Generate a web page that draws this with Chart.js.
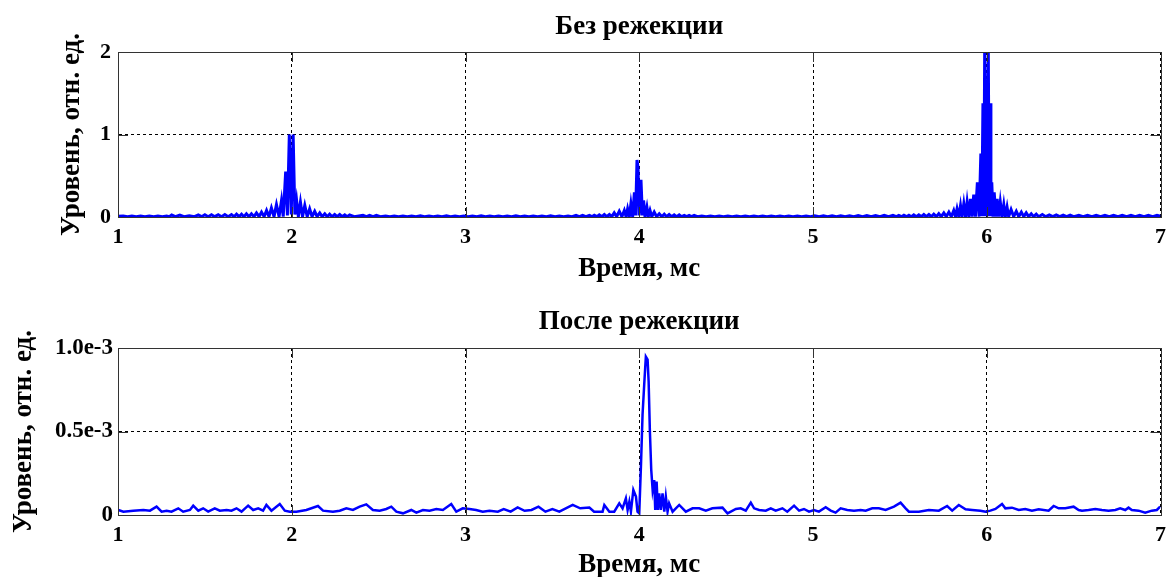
<!DOCTYPE html>
<html>
<head>
<meta charset="utf-8">
<script src="https://cdn.jsdelivr.net/npm/chart.js@4.4.0/dist/chart.umd.min.js"></script>
<style>
  html, body { margin: 0; padding: 0; background: #fff; overflow: hidden; width: 1166px; height: 577px; }
  canvas { position: absolute; left: 0; }
  #topChart { top: 0; }
  #bottomChart { top: 290px; }
</style>
</head>
<body>
<canvas id="topChart" width="1173" height="290"></canvas>
<canvas id="bottomChart" width="1173" height="293"></canvas>
<script>
// axis ticks
const xTicks = [1, 2, 3, 4, 5, 6, 7];
const topYTicks = [0, 1, 2];
const topYLabels = ['0', '1', '2'];
const bottomYTicks = [0, 0.5e-3, 1.0e-3];
const bottomYLabels = ['0', '0.5e-3', '1.0e-3'];

// "Без режекции" trace, time in ms
const topTime = [
  1.000, 1.030, 1.055, 1.080, 1.105, 1.130, 1.155, 1.180, 1.205, 1.230,
  1.255, 1.280, 1.295, 1.309, 1.330, 1.356, 1.380, 1.410, 1.440, 1.462,
  1.481, 1.500, 1.519, 1.538, 1.557, 1.577, 1.596, 1.615, 1.634, 1.653,
  1.668, 1.682, 1.697, 1.711, 1.725, 1.739, 1.754, 1.768, 1.783, 1.797,
  1.812, 1.826, 1.841, 1.855, 1.869, 1.883, 1.898, 1.912, 1.927, 1.941,
  1.951, 1.965, 1.975, 1.986, 1.997, 2.008, 2.018, 2.028, 2.038, 2.050,
  2.062, 2.075, 2.089, 2.103, 2.117, 2.132, 2.146, 2.161, 2.175, 2.190,
  2.204, 2.218, 2.232, 2.247, 2.261, 2.276, 2.290, 2.305, 2.319, 2.333,
  2.360, 2.410, 2.430, 2.448, 2.468, 2.487, 2.510, 2.540, 2.565, 2.590,
  2.615, 2.640, 2.665, 2.690, 2.715, 2.740, 2.765, 2.790, 2.815, 2.840,
  2.865, 2.890, 2.915, 2.940, 2.965, 2.990, 3.015, 3.040, 3.065, 3.090,
  3.115, 3.140, 3.165, 3.190, 3.215, 3.240, 3.265, 3.290, 3.315, 3.340,
  3.365, 3.390, 3.415, 3.440, 3.465, 3.490, 3.515, 3.540, 3.565, 3.590,
  3.613, 3.636, 3.655, 3.674, 3.693, 3.713, 3.727, 3.741, 3.756, 3.770,
  3.785, 3.799, 3.813, 3.828, 3.842, 3.856, 3.870, 3.885, 3.900, 3.914,
  3.924, 3.933, 3.943, 3.952, 3.962, 3.972, 3.979, 3.987, 3.993, 3.999,
  4.010, 4.018, 4.025, 4.033, 4.044, 4.052, 4.062, 4.072, 4.086, 4.100,
  4.115, 4.130, 4.144, 4.158, 4.172, 4.186, 4.201, 4.215, 4.230, 4.244,
  4.259, 4.273, 4.287, 4.301, 4.316, 4.335, 4.360, 4.385, 4.410, 4.435,
  4.460, 4.485, 4.510, 4.535, 4.560, 4.585, 4.610, 4.635, 4.660, 4.685,
  4.710, 4.735, 4.760, 4.785, 4.810, 4.835, 4.860, 4.885, 4.910, 4.935,
  4.960, 4.985, 5.010, 5.035, 5.060, 5.085, 5.110, 5.135, 5.160, 5.185,
  5.210, 5.235, 5.260, 5.285, 5.310, 5.335, 5.360, 5.385, 5.410, 5.435,
  5.460, 5.480, 5.494, 5.509, 5.523, 5.538, 5.552, 5.566, 5.580, 5.595,
  5.609, 5.624, 5.638, 5.652, 5.667, 5.681, 5.695, 5.710, 5.724, 5.738,
  5.753, 5.767, 5.782, 5.796, 5.810, 5.820, 5.829, 5.839, 5.849, 5.858,
  5.868, 5.878, 5.887, 5.897, 5.906, 5.916, 5.925, 5.935, 5.946, 5.956,
  5.966, 5.972, 5.978, 5.983, 5.988, 5.998, 6.009, 6.014, 6.019, 6.024,
  6.029, 6.036, 6.043, 6.052, 6.060, 6.069, 6.078, 6.088, 6.098, 6.107,
  6.117, 6.126, 6.140, 6.155, 6.170, 6.184, 6.199, 6.213, 6.227, 6.241,
  6.256, 6.270, 6.285, 6.299, 6.320, 6.340, 6.360, 6.380, 6.400, 6.420,
  6.440, 6.460, 6.480, 6.500, 6.530, 6.555, 6.580, 6.605, 6.630, 6.655,
  6.680, 6.705, 6.730, 6.755, 6.780, 6.805, 6.830, 6.855, 6.880, 6.905,
  6.930, 6.955, 6.980, 7.000
];
const topLevel = [
  0.010, 0.012, 0.004, 0.012, 0.004, 0.012, 0.004, 0.012, 0.004, 0.012,
  0.004, 0.012, 0.004, 0.025, 0.004, 0.022, 0.004, 0.015, 0.004, 0.025,
  0.004, 0.028, 0.004, 0.028, 0.004, 0.028, 0.004, 0.030, 0.004, 0.030,
  0.004, 0.035, 0.004, 0.035, 0.004, 0.040, 0.004, 0.040, 0.004, 0.050,
  0.004, 0.060, 0.004, 0.080, 0.004, 0.110, 0.004, 0.150, 0.004, 0.200,
  0.004, 0.550, 0.020, 1.000, 0.030, 1.000, 0.030, 0.200, 0.004, 0.180,
  0.004, 0.140, 0.004, 0.100, 0.004, 0.070, 0.004, 0.050, 0.004, 0.040,
  0.004, 0.035, 0.004, 0.030, 0.004, 0.030, 0.004, 0.025, 0.004, 0.025,
  0.004, 0.020, 0.004, 0.020, 0.004, 0.020, 0.004, 0.012, 0.004, 0.012,
  0.004, 0.012, 0.004, 0.012, 0.004, 0.014, 0.004, 0.012, 0.004, 0.012,
  0.004, 0.014, 0.004, 0.012, 0.004, 0.012, 0.004, 0.012, 0.004, 0.014,
  0.004, 0.012, 0.004, 0.012, 0.004, 0.012, 0.004, 0.014, 0.004, 0.012,
  0.004, 0.012, 0.004, 0.012, 0.004, 0.014, 0.004, 0.012, 0.004, 0.012,
  0.004, 0.020, 0.004, 0.020, 0.004, 0.020, 0.004, 0.022, 0.004, 0.025,
  0.004, 0.030, 0.004, 0.030, 0.004, 0.050, 0.004, 0.070, 0.004, 0.080,
  0.004, 0.100, 0.004, 0.160, 0.004, 0.300, 0.020, 0.690, 0.600, 0.020,
  0.450, 0.020, 0.200, 0.004, 0.120, 0.004, 0.080, 0.004, 0.060, 0.004,
  0.040, 0.004, 0.035, 0.004, 0.030, 0.004, 0.025, 0.004, 0.025, 0.004,
  0.020, 0.004, 0.020, 0.004, 0.020, 0.004, 0.012, 0.004, 0.012, 0.004,
  0.012, 0.004, 0.012, 0.004, 0.012, 0.004, 0.012, 0.004, 0.012, 0.004,
  0.012, 0.004, 0.012, 0.004, 0.012, 0.004, 0.012, 0.004, 0.012, 0.004,
  0.012, 0.004, 0.014, 0.004, 0.014, 0.004, 0.015, 0.004, 0.015, 0.004,
  0.016, 0.004, 0.017, 0.004, 0.018, 0.004, 0.018, 0.004, 0.019, 0.004,
  0.020, 0.004, 0.020, 0.004, 0.022, 0.004, 0.022, 0.004, 0.025, 0.004,
  0.025, 0.004, 0.030, 0.004, 0.030, 0.004, 0.035, 0.004, 0.040, 0.004,
  0.050, 0.004, 0.060, 0.004, 0.080, 0.004, 0.100, 0.004, 0.140, 0.004,
  0.160, 0.004, 0.180, 0.004, 0.220, 0.004, 0.270, 0.004, 0.420, 0.004,
  0.770, 0.010, 1.380, 0.010, 2.000, 0.010, 2.000, 0.010, 1.380, 0.010,
  0.420, 0.004, 0.300, 0.004, 0.220, 0.004, 0.180, 0.004, 0.150, 0.004,
  0.120, 0.004, 0.090, 0.004, 0.070, 0.004, 0.060, 0.004, 0.050, 0.004,
  0.040, 0.004, 0.035, 0.004, 0.030, 0.004, 0.025, 0.004, 0.025, 0.004,
  0.022, 0.004, 0.022, 0.004, 0.020, 0.004, 0.020, 0.004, 0.020, 0.004,
  0.020, 0.004, 0.020, 0.004, 0.020, 0.004, 0.020, 0.004, 0.020, 0.004,
  0.020, 0.004, 0.020, 0.010
];

// "После режекции" trace
const bottomTime = [
  1.002, 1.031, 1.088, 1.146, 1.184, 1.222, 1.251, 1.280, 1.308, 1.347,
  1.375, 1.414, 1.433, 1.462, 1.490, 1.519, 1.557, 1.586, 1.625, 1.653,
  1.682, 1.711, 1.749, 1.778, 1.807, 1.835, 1.854, 1.883, 1.931, 1.960,
  1.989, 2.027, 2.084, 2.151, 2.180, 2.237, 2.276, 2.314, 2.352, 2.391,
  2.429, 2.467, 2.506, 2.544, 2.573, 2.602, 2.640, 2.688, 2.717, 2.755,
  2.793, 2.832, 2.870, 2.918, 2.947, 2.984, 3.023, 3.061, 3.099, 3.138,
  3.186, 3.220, 3.260, 3.300, 3.340, 3.380, 3.420, 3.460, 3.500, 3.540,
  3.617, 3.660, 3.713, 3.740, 3.789, 3.799, 3.828, 3.856, 3.885, 3.904,
  3.923, 3.933, 3.943, 3.952, 3.966, 3.981, 3.990, 4.000, 4.010, 4.019,
  4.029, 4.038, 4.048, 4.054, 4.061, 4.069, 4.077, 4.086, 4.092, 4.100,
  4.107, 4.115, 4.124, 4.134, 4.144, 4.153, 4.163, 4.172, 4.192, 4.230,
  4.268, 4.307, 4.345, 4.383, 4.421, 4.479, 4.508, 4.556, 4.584, 4.613,
  4.642, 4.661, 4.690, 4.728, 4.757, 4.785, 4.824, 4.852, 4.891, 4.920,
  4.948, 4.977, 5.006, 5.034, 5.073, 5.102, 5.130, 5.159, 5.197, 5.236,
  5.274, 5.303, 5.341, 5.379, 5.418, 5.466, 5.504, 5.533, 5.552, 5.609,
  5.667, 5.724, 5.772, 5.801, 5.839, 5.878, 5.916, 5.964, 5.993, 6.021,
  6.050, 6.088, 6.107, 6.145, 6.184, 6.222, 6.260, 6.299, 6.356, 6.385,
  6.414, 6.452, 6.500, 6.529, 6.548, 6.586, 6.625, 6.663, 6.701, 6.740,
  6.768, 6.797, 6.816, 6.835, 6.874, 6.912, 6.950, 6.979, 6.998
];
const bottomLevel = [
  0.030e-3, 0.020e-3, 0.026e-3, 0.030e-3, 0.026e-3, 0.050e-3, 0.020e-3, 0.026e-3, 0.020e-3, 0.040e-3,
  0.020e-3, 0.030e-3, 0.056e-3, 0.026e-3, 0.040e-3, 0.020e-3, 0.040e-3, 0.026e-3, 0.030e-3, 0.026e-3,
  0.040e-3, 0.020e-3, 0.056e-3, 0.030e-3, 0.040e-3, 0.026e-3, 0.060e-3, 0.026e-3, 0.066e-3, 0.026e-3,
  0.020e-3, 0.020e-3, 0.030e-3, 0.054e-3, 0.026e-3, 0.020e-3, 0.026e-3, 0.040e-3, 0.030e-3, 0.050e-3,
  0.064e-3, 0.030e-3, 0.026e-3, 0.036e-3, 0.050e-3, 0.020e-3, 0.010e-3, 0.030e-3, 0.014e-3, 0.030e-3,
  0.026e-3, 0.036e-3, 0.030e-3, 0.066e-3, 0.020e-3, 0.040e-3, 0.036e-3, 0.030e-3, 0.020e-3, 0.026e-3,
  0.020e-3, 0.035e-3, 0.020e-3, 0.045e-3, 0.025e-3, 0.030e-3, 0.050e-3, 0.020e-3, 0.035e-3, 0.020e-3,
  0.060e-3, 0.040e-3, 0.045e-3, 0.020e-3, 0.020e-3, 0.060e-3, 0.020e-3, 0.020e-3, 0.070e-3, 0.040e-3,
  0.100e-3, 0.030e-3, 0.080e-3, 0.020e-3, 0.150e-3, 0.110e-3, 0.020e-3, 0.010e-3, 0.300e-3, 0.600e-3,
  0.790e-3, 0.948e-3, 0.930e-3, 0.800e-3, 0.509e-3, 0.270e-3, 0.150e-3, 0.210e-3, 0.030e-3, 0.200e-3,
  0.030e-3, 0.130e-3, 0.030e-3, 0.130e-3, 0.020e-3, 0.110e-3, 0.020e-3, 0.070e-3, 0.020e-3, 0.060e-3,
  0.020e-3, 0.040e-3, 0.040e-3, 0.026e-3, 0.040e-3, 0.044e-3, 0.010e-3, 0.036e-3, 0.040e-3, 0.026e-3,
  0.074e-3, 0.040e-3, 0.030e-3, 0.026e-3, 0.040e-3, 0.026e-3, 0.040e-3, 0.020e-3, 0.056e-3, 0.026e-3,
  0.036e-3, 0.020e-3, 0.030e-3, 0.020e-3, 0.046e-3, 0.026e-3, 0.014e-3, 0.040e-3, 0.030e-3, 0.026e-3,
  0.030e-3, 0.026e-3, 0.040e-3, 0.040e-3, 0.030e-3, 0.050e-3, 0.074e-3, 0.040e-3, 0.020e-3, 0.020e-3,
  0.030e-3, 0.026e-3, 0.054e-3, 0.026e-3, 0.060e-3, 0.034e-3, 0.030e-3, 0.026e-3, 0.020e-3, 0.026e-3,
  0.036e-3, 0.066e-3, 0.040e-3, 0.044e-3, 0.030e-3, 0.036e-3, 0.026e-3, 0.034e-3, 0.026e-3, 0.054e-3,
  0.040e-3, 0.040e-3, 0.050e-3, 0.030e-3, 0.026e-3, 0.030e-3, 0.036e-3, 0.030e-3, 0.026e-3, 0.030e-3,
  0.040e-3, 0.030e-3, 0.044e-3, 0.030e-3, 0.026e-3, 0.014e-3, 0.026e-3, 0.030e-3, 0.050e-3
];

const serif = "'Liberation Serif', 'Times New Roman', serif";

// matlab-like box with short ticks pointing inwards
const boxTicks = {
  id: 'boxTicks',
  afterDraw(chart) {
    const { ctx, chartArea: a, scales: { x, y } } = chart;
    const len = 10;
    ctx.save();
    ctx.strokeStyle = '#333';
    ctx.lineWidth = 1;
    ctx.setLineDash([]);
    ctx.beginPath();
    x.ticks.forEach(t => {
      const px = Math.round(x.getPixelForValue(t.value)) + 0.5;
      ctx.moveTo(px, a.bottom); ctx.lineTo(px, a.bottom - len);
      ctx.moveTo(px, a.top); ctx.lineTo(px, a.top + len);
    });
    y.ticks.forEach(t => {
      const py = Math.round(y.getPixelForValue(t.value)) + 0.5;
      ctx.moveTo(a.left, py); ctx.lineTo(a.left + len, py);
      ctx.moveTo(a.right, py); ctx.lineTo(a.right - len, py);
    });
    ctx.stroke();
    ctx.strokeRect(Math.round(a.left) + 0.5, Math.round(a.top) + 0.5,
      Math.round(a.right - a.left), Math.round(a.bottom - a.top));
    ctx.restore();
  }
};

function makeChart(id, time, level, cfg) {
  const points = time.map((t, i) => ({ x: t, y: level[i] }));
  return new Chart(document.getElementById(id), {
    type: 'line',
    data: {
      datasets: [{
        data: points,
        borderColor: '#0000ff',
        borderWidth: cfg.lineWidth,
        pointRadius: 0,
        tension: 0,
        fill: false
      }]
    },
    options: {
      responsive: false,
      animation: false,
      layout: { padding: 0 },
      plugins: {
        legend: { display: false },
        tooltip: { enabled: false },
        title: {
          display: true,
          fullSize: false,
          text: cfg.title,
          color: '#000',
          font: { family: serif, size: 27, weight: 'bold' },
          padding: { top: cfg.titleTop, bottom: cfg.titleBottom }
        }
      },
      scales: {
        x: {
          type: 'linear',
          min: 1,
          max: 7,
          afterBuildTicks: s => { s.ticks = xTicks.map(v => ({ value: v })); },
          afterFit: s => { s.height = cfg.xHeight; },
          ticks: {
            color: '#000',
            font: { family: serif, size: 22, weight: 'bold' },
            padding: 7,
            maxRotation: 0,
            callback: v => String(v)
          },
          grid: { color: '#000', drawTicks: false, lineWidth: 1 },
          border: { display: true, color: '#333', dash: [3, 3] },
          title: {
            display: true,
            text: 'Время, мс',
            color: '#000',
            font: { family: serif, size: 27, weight: 'bold' },
            padding: { top: 0, bottom: cfg.xTitleBottom }
          }
        },
        y: {
          min: 0,
          max: cfg.yMax,
          afterBuildTicks: s => { s.ticks = cfg.yTicks.map(v => ({ value: v })); },
          afterFit: s => { s.width = 118; },
          ticks: {
            color: '#000',
            font: { family: serif, size: cfg.yTickSize, weight: 'bold' },
            padding: cfg.yTickPad,
            callback: (v, i) => cfg.yLabels[i]
          },
          grid: { color: '#000', drawTicks: false, lineWidth: 1 },
          border: { display: true, color: '#333', dash: [3, 3] },
          title: {
            display: true,
            text: 'Уровень, отн. ед.',
            color: '#000',
            font: { family: serif, size: 27, weight: 'bold' },
            padding: { top: cfg.yTitleLeft, bottom: 0 }
          }
        }
      }
    },
    plugins: [boxTicks]
  });
}

makeChart('topChart', topTime, topLevel, {
  title: 'Без режекции', titleTop: 11, titleBottom: 8.6,
  xHeight: 73, xTitleBottom: 5, lineWidth: 3,
  yMax: 2, yTicks: topYTicks, yLabels: topYLabels,
  yTickSize: 22, yTickPad: 7, yTitleLeft: 56
});

makeChart('bottomChart', bottomTime, bottomLevel, {
  title: 'После режекции', titleTop: 16, titleBottom: 9.6,
  xHeight: 68, xTitleBottom: 2, lineWidth: 2.5,
  yMax: 1.0e-3, yTicks: bottomYTicks, yLabels: bottomYLabels,
  yTickSize: 23, yTickPad: 5, yTitleLeft: 8
});
</script>
</body>
</html>
